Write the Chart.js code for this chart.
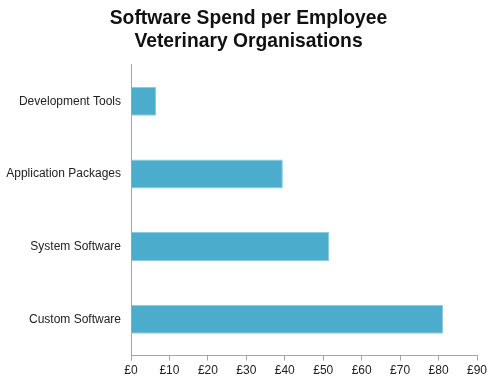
<!DOCTYPE html>
<html><head><meta charset="utf-8">
<script src="https://cdn.jsdelivr.net/npm/chart.js@4"></script>
<style>html,body{margin:0;padding:0;background:#fff}#wrap{width:500px;height:383px}</style>
</head><body><div id="wrap"><canvas id="c"></canvas></div>
<script>
const titleLines = ['Software Spend per Employee', 'Veterinary Organisations'];
const categories = ['Development Tools', 'Application Packages', 'System Software', 'Custom Software'];
const spend = [6.5, 39.5, 51.6, 81.2];
const xTicks = [0, 10, 20, 30, 40, 50, 60, 70, 80, 90];

const shiftTitle = {
  id: 'shiftTitle',
  afterLayout(chart) {
    const t = chart.titleBlock;
    if (t) { t.left += 16; t.right += 0; }
  }
};

new Chart(document.getElementById('c'), {
  type: 'bar',
  data: { labels: categories, datasets: [{ data: spend, backgroundColor: '#4BACCB', borderColor: '#8CCBDD', borderWidth: 1, barPercentage: 0.4, categoryPercentage: 1 }] },
  plugins: [shiftTitle],
  options: {
    indexAxis: 'y', responsive: true, maintainAspectRatio: false, animation: false,
    layout: { padding: { left: 4, right: 23, top: 4, bottom: 2 } },
    plugins: {
      legend: { display: false }, tooltip: { enabled: false },
      title: { display: true, text: titleLines, color: '#111', font: { family: 'Liberation Sans, Arial', size: 19.3, weight: 'bold', lineHeight: 1.19 }, padding: { top: 3, bottom: 12 } }
    },
    scales: {
      x: {
        min: 0, max: 90,
        afterBuildTicks: s => { s.ticks = xTicks.map(v => ({ value: v })); },
        ticks: { callback: v => '£' + v, color: '#222', font: { family: 'Liberation Sans, Arial', size: 12 }, padding: 3, maxRotation: 0 },
        grid: { drawOnChartArea: false, drawTicks: true, tickLength: 5, color: '#A6A6A6' },
        border: { color: '#A6A6A6', width: 1 }
      },
      y: {
        afterFit: s => { s.width = 127; },
        ticks: { color: '#222', font: { family: 'Liberation Sans, Arial', size: 12 }, padding: 10 },
        grid: { drawOnChartArea: false, drawTicks: false },
        border: { color: '#A6A6A6', width: 1 }
      }
    }
  }
});
</script></body></html>
